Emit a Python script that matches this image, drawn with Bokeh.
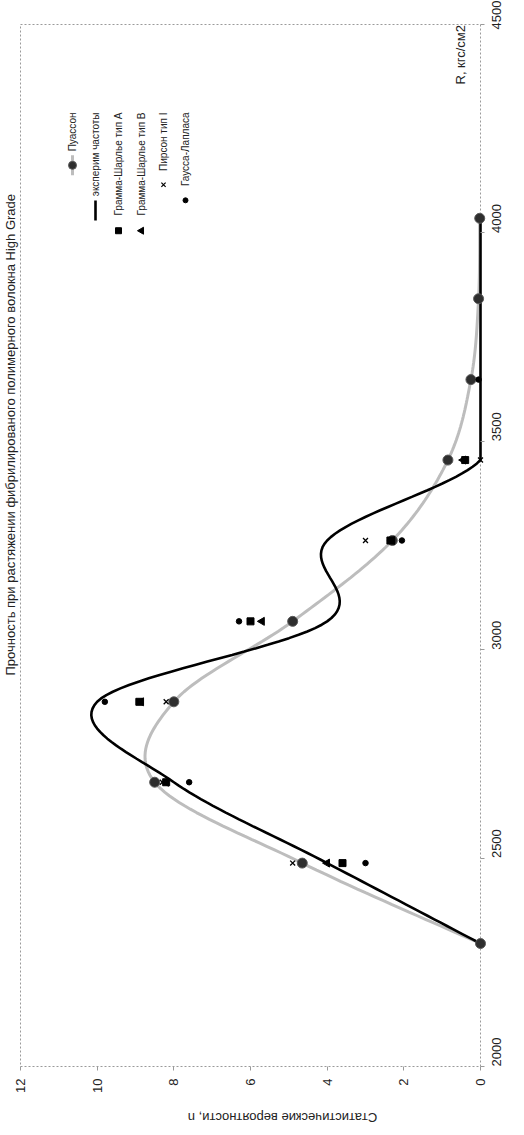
import math
import numpy as np
from bokeh.plotting import figure
from bokeh.models import Range1d, FixedTicker, Label
from bokeh.embed import file_html
from bokeh.resources import INLINE

# ---------------- data ----------------
R_classes = [2295, 2488, 2682, 2875, 3068, 3262, 3455, 3648, 3842, 4035]
puasson = [0.0, 4.65, 8.5, 8.0, 4.9, 2.3, 0.85, 0.25, 0.05, 0.02]
experim = [0, 4, 8, 10, 4, 4, 0, 0, 0, 0]

R_gsh = [2488, 2682, 2875, 3068, 3262, 3455]
gsh_a = [3.6, 8.2, 8.9, 6.0, 2.35, 0.4]
gsh_b = [4.0, 8.2, 8.85, 5.7, 2.3, 0.45]

R_pirson = [2488, 2682, 2875, 3068, 3262, 3455]
pirson = [4.9, 8.3, 8.2, 6.0, 3.0, 0.0]

R_gl = [2488, 2682, 2875, 3068, 3262, 3455, 3648]
gauss = [3.0, 7.6, 9.8, 6.3, 2.05, 0.4, 0.05]

n_ticks = [0, 2, 4, 6, 8, 10, 12]
R_ticks = [2000, 2500, 3000, 3500, 4000, 4500]

title_text = "Прочность при растяжении фибрилированого полимерного волокна High Grade"
x_title = "R, кгс/см2"
y_title = "Статистические вероятности, n"
legend_names = ["Пуассон", "эксперим частоты", "Грамма-Шарлье тип A",
                "Грамма-Шарлье тип B", "Пирсон тип I", "Гаусса-Лапласа"]

FONT = "Liberation Sans"

# ---------------- layout (canvas px) ----------------
# dashed plot-area box: x 20..480, y 24..1066.  The drawing frame covers the
# whole canvas so that rotated titles and tick labels can be placed freely.
CW, CH = 520, 1130
BOX_L, BOX_W, BOX_T, BOX_H = 20, 460, 24, 1042
N_PER_PX = 12.0 / BOX_W
PX_PER_R = BOX_H / 2500.0


def nx(xc):
    # canvas x -> n (n runs 12 .. 0 from left to right)
    return 12 - (xc - BOX_L) * N_PER_PX


def ry(yc):
    return 2000 + (BOX_T + BOX_H - yc) / PX_PER_R


# rough Arial advance widths (em) used to place legend samples
_W = {" ": .278, "-": .333, "I": .278, "A": .667, "B": .667, "Г": .615, "П": .719,
      "Ш": .906, "г": .365, "к": .438, "з": .458, "т": .458, "с": .5, "у": .5,
      "х": .5, "э": .51, "ч": .521, "ь": .521, "в": .531, "п": .542, "я": .542,
      "н": .552, "м": .688, "ж": .669, "ы": .719, "ш": .802, "ф": .823, "ю": .75}


def text_len(s, px):
    return sum(_W.get(c, .556) for c in s) * px


def smooth(xs, ys, steps=24):
    # Excel-style smoothed line (Catmull-Rom through the points),
    # kept inside the plot area (n >= 0) as the original plot area clips it
    P = np.column_stack([xs, ys]).astype(float)
    out = [P[0]]
    n = len(P)
    for i in range(n - 1):
        p0 = P[i - 1] if i > 0 else P[i]
        p1, p2 = P[i], P[i + 1]
        p3 = P[i + 2] if i + 2 < n else P[i + 1]
        m1 = (p2 - p0) / 2.0
        m2 = (p3 - p1) / 2.0
        for t in np.linspace(0, 1, steps + 1)[1:]:
            h00 = 2 * t**3 - 3 * t**2 + 1
            h10 = t**3 - 2 * t**2 + t
            h01 = -2 * t**3 + 3 * t**2
            h11 = t**3 - t**2
            out.append(h00 * p1 + h10 * m1 + h01 * p2 + h11 * m2)
    out = np.array(out)
    return out[:, 0], np.maximum(out[:, 1], 0.0)


p = figure(frame_width=CW, frame_height=CH,
           x_range=Range1d(nx(0), nx(CW)), y_range=Range1d(ry(CH), ry(0)),
           output_backend="svg", toolbar_location=None,
           x_axis_location="below", y_axis_location="right",
           min_border_left=0, min_border_top=0,
           min_border_right=0, min_border_bottom=0)
p.background_fill_color = "white"
p.border_fill_color = "white"
p.outline_line_color = None
p.xgrid.visible = False
p.ygrid.visible = False

# dashed plot-area box
p.quad(left=[12], right=[0], bottom=[2000], top=[4500], fill_color=None,
       line_color="#9a9a9a", line_dash="2 2", line_width=1)

for ax in (p.xaxis[0], p.yaxis[0]):
    ax.axis_line_color = None
    ax.major_tick_line_color = "#9a9a9a"
    ax.major_tick_out = 4
    ax.major_tick_in = 0
    ax.minor_tick_line_color = None
    ax.major_label_text_font = FONT
    ax.major_label_text_font_size = "13px"
    ax.major_label_text_color = "#222222"
    ax.major_label_orientation = math.pi / 2
p.xaxis.ticker = FixedTicker(ticks=n_ticks)
p.yaxis.ticker = FixedTicker(ticks=R_ticks)
p.xaxis.fixed_location = 2000
p.yaxis.fixed_location = 0
p.xaxis.major_label_standoff = 8
p.yaxis.major_label_standoff = 12

# Poisson smoothed gray line with markers
sx, sy = smooth(R_classes, puasson)
p.line(sy, sx, line_color="#bdbdbd", line_width=3)
# experimental frequencies smoothed black line
ex, ey = smooth(R_classes, experim)
p.line(ey, ex, line_color="black", line_width=2.6)

p.scatter(puasson, R_classes, marker="circle", size=10,
          fill_color="#2e2e2e", line_color="#5a5a5a")
p.scatter(gsh_a, R_gsh, marker="square", size=7, fill_color="black", line_color="black")
p.scatter(gsh_b, R_gsh, marker="triangle", size=8, angle=math.pi / 2,
          fill_color="black", line_color="black")
p.scatter(pirson, R_pirson, marker="x", size=7, line_color="black", line_width=1.3)
p.scatter(gauss, R_gl, marker="circle", size=5.5, fill_color="black", line_color="black")

# ---------------- legend (rotated, drawn by hand) ----------------
LEG_FS = 10
leg_x = [72, 95, 118, 141, 163, 185]
t_end = 112
starts = [t_end + text_len(s, LEG_FS) for s in legend_names]
mids = [s0 + 14 for s0 in starts]
p.line([nx(leg_x[0])] * 2, [ry(mids[0] + 10), ry(mids[0] - 10)],
       line_color="#bdbdbd", line_width=3)
p.scatter([nx(leg_x[0])], [ry(mids[0])], marker="circle", size=8,
          fill_color="#2e2e2e", line_color="#5a5a5a")
p.line([nx(leg_x[1])] * 2, [ry(mids[1] + 10), ry(mids[1] - 10)],
       line_color="black", line_width=2.6)
p.scatter([nx(leg_x[2])], [ry(mids[2])], marker="square", size=6,
          fill_color="black", line_color="black")
p.scatter([nx(leg_x[3])], [ry(mids[3])], marker="triangle", size=7, angle=math.pi / 2,
          fill_color="black", line_color="black")
p.scatter([nx(leg_x[4])], [ry(mids[4])], marker="x", size=6, line_color="black", line_width=1.2)
p.scatter([nx(leg_x[5])], [ry(mids[5])], marker="circle", size=5,
          fill_color="black", line_color="black")
for xp, name in zip(leg_x, legend_names):
    p.add_layout(Label(x=nx(xp), y=ry(t_end), text=name, angle=math.pi / 2,
                       text_align="right", text_baseline="middle",
                       text_font=FONT, text_font_size=f"{LEG_FS}px", text_color="#222222"))

# ---------------- titles ----------------
p.add_layout(Label(x=nx(10), y=ry(675), text=title_text, angle=math.pi / 2,
                   text_align="left", text_baseline="middle",
                   text_font=FONT, text_font_size="13px", text_color="#222222"))
p.add_layout(Label(x=nx(460), y=ry(84), text=x_title, angle=math.pi / 2,
                   text_align="left", text_baseline="middle",
                   text_font=FONT, text_font_size="13px", text_color="#222222"))
p.add_layout(Label(x=nx(282), y=ry(1117), text=y_title, angle=math.pi,
                   text_align="center", text_baseline="middle",
                   text_font=FONT, text_font_size="13px", text_color="#222222"))

open("out.html", "w").write(file_html(p, INLINE))
